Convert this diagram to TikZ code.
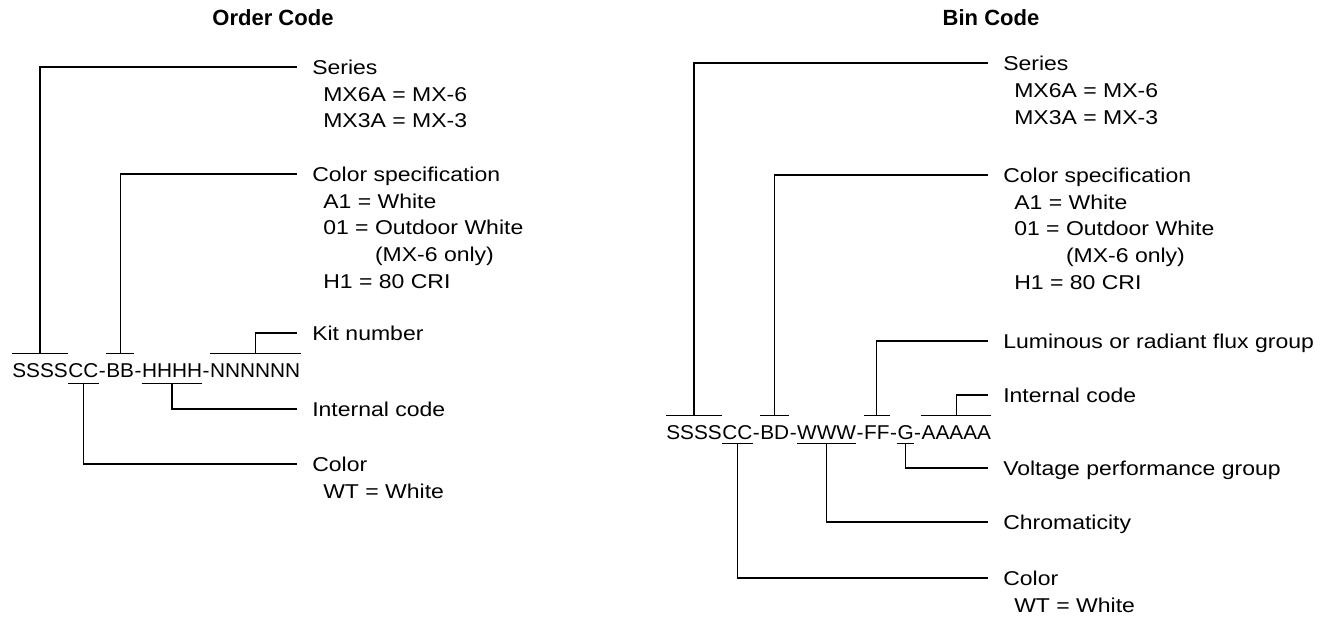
\documentclass[tikz,border=0pt]{standalone}
\usepackage{fontspec}
\setmainfont{Liberation Sans}[FakeStretch=1.15]
\newfontfamily\codefont{Liberation Sans}[FakeStretch=1.04]
\newfontfamily\titlefont{Liberation Sans}
\begin{document}
\begin{tikzpicture}[x=0.75pt,y=-0.75pt,
  lbl/.style={anchor=west, inner sep=0pt, text height=10.74pt, text depth=0pt, font=\fontsize{15pt}{18pt}\selectfont},
  grp/.style={anchor=base west, inner sep=0pt, text height=17.25pt, text depth=4.5pt, font=\codefont\fontsize{15pt}{18pt}\selectfont},
  rgrp/.style={grp, text depth=3.2pt},
  lead/.style={draw, line width=0.95pt, shorten >=11.25pt},
  bar/.style={draw, line width=0.95pt},
  ttl/.style={font=\titlefont\bfseries\fontsize{16.5pt}{20pt}\selectfont, inner sep=0pt}]
\useasboundingbox (0,0) rectangle (1335,619);

% titles
\node[ttl] (t1) at (273,18) {Order Code};
\node[ttl] (t2) at (991,18) {Bin Code};

% ===== Order code =====
\node[grp] (ls) at (12,377) {SSSS};
\node[grp] (lc) at (ls.base east) {CC};
\node[grp] (ld1) at (lc.base east) {-};
\node[grp] (lb) at (ld1.base east) {BB};
\node[grp] (ld2) at (lb.base east) {-};
\node[grp] (lh) at (ld2.base east) {HHHH};
\node[grp] (ld3) at (lh.base east) {-};
\node[grp] (ln) at (ld3.base east) {NNNNNN};

\draw[bar] (ls.north west) -- (ls.north east);
\draw[bar] (lb.north west) -- (lb.north east);
\draw[bar] (ln.north west) -- (ln.north east);
\draw[bar] (lc.south west) -- (lc.south east);
\draw[bar] (lh.south west) -- (lh.south east);

\node[lbl] (lSer) at (312,67) {Series};
\node[lbl] (lSer1) at (323,94) {MX6A = MX-6};
\node[lbl] (lSer2) at (323,120) {MX3A = MX-3};
\node[lbl] (lCS) at (312,174) {Color specification};
\node[lbl] (lCS1) at (323,201) {A1 = White};
\node[lbl] (lCS2) at (323,227) {01 = Outdoor White};
\node[lbl] (lCS3) at (323,254) {\phantom{01 = }(MX-6 only)};
\node[lbl] (lCS4) at (323,281) {H1 = 80 CRI};
\node[lbl] (lKit) at (312,333) {Kit number};
\node[lbl] (lInt) at (312,409) {Internal code};
\node[lbl] (lCol) at (312,464) {Color};
\node[lbl] (lCol1) at (323,491) {WT = White};

\draw[lead] (ls.north) |- (lSer.west);
\draw[lead] (lb.north) |- (lCS.west);
\draw[lead] (ln.north) |- (lKit.west);
\draw[lead] (lh.south) |- (lInt.west);
\draw[lead] (lc.south) |- (lCol.west);

% ===== Bin code =====
\node[rgrp] (rs) at (666,439) {SSSS};
\node[rgrp] (rc) at (rs.base east) {CC};
\node[rgrp] (rd1) at (rc.base east) {-};
\node[rgrp] (rbd) at (rd1.base east) {BD};
\node[rgrp] (rd2) at (rbd.base east) {-};
\node[rgrp] (rw) at (rd2.base east) {WWW};
\node[rgrp] (rd3) at (rw.base east) {-};
\node[rgrp] (rf) at (rd3.base east) {FF};
\node[rgrp] (rd4) at (rf.base east) {-};
\node[rgrp] (rg) at (rd4.base east) {G};
\node[rgrp] (rd5) at (rg.base east) {-};
\node[rgrp] (ra) at (rd5.base east) {AAAAA};

\draw[bar] (rs.north west) -- (rs.north east);
\draw[bar] (rbd.north west) -- (rbd.north east);
\draw[bar] (rf.north west) -- (rf.north east);
\draw[bar] (ra.north west) -- (ra.north east);
\draw[bar] (rc.south west) -- (rc.south east);
\draw[bar] (rw.south west) -- (rw.south east);
\draw[bar] (rg.south west) -- (rg.south east);

\node[lbl] (rSer) at (1003,63) {Series};
\node[lbl] (rSer1) at (1014,90) {MX6A = MX-6};
\node[lbl] (rSer2) at (1014,117) {MX3A = MX-3};
\node[lbl] (rCS) at (1003,175) {Color specification};
\node[lbl] (rCS1) at (1014,202) {A1 = White};
\node[lbl] (rCS2) at (1014,228) {01 = Outdoor White};
\node[lbl] (rCS3) at (1014,255) {\phantom{01 = }(MX-6 only)};
\node[lbl] (rCS4) at (1014,282) {H1 = 80 CRI};
\node[lbl] (rLum) at (1003,341) {Luminous or radiant flux group};
\node[lbl] (rInt) at (1003,395) {Internal code};
\node[lbl] (rVol) at (1003,468) {Voltage performance group};
\node[lbl] (rChr) at (1003,522) {Chromaticity};
\node[lbl] (rCol) at (1003,578) {Color};
\node[lbl] (rCol1) at (1014,605) {WT = White};

\draw[lead] (rs.north) |- (rSer.west);
\draw[lead] (rbd.north) |- (rCS.west);
\draw[lead] (rf.north) |- (rLum.west);
\draw[lead] (ra.north) |- (rInt.west);
\draw[lead] (rg.south) |- (rVol.west);
\draw[lead] (rw.south) |- (rChr.west);
\draw[lead] (rc.south) |- (rCol.west);
\end{tikzpicture}
\end{document}
